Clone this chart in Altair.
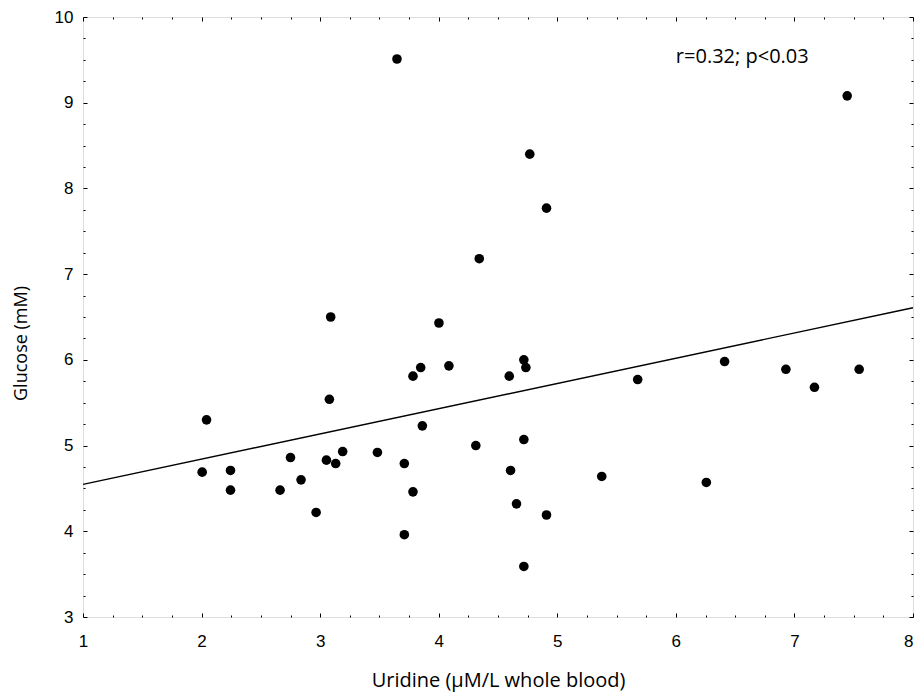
import altair as alt
import pandas as pd

# Scatter data
uridine = [3.648, 3.089, 4.002, 7.445, 4.768, 4.909, 4.342,
           2.042, 2.005, 2.244, 2.244, 2.662, 2.750, 2.839, 2.966, 3.078, 3.053,
           3.131, 3.190, 3.483, 3.710, 3.710, 3.783, 3.783, 3.848, 3.862, 4.086,
           4.718, 4.735, 4.595, 5.678, 6.411, 6.928, 7.169, 7.546, 4.313, 4.718,
           4.606, 5.375, 6.257, 4.656, 4.909, 4.718]
glucose = [9.51, 6.50, 6.43, 9.08, 8.40, 7.77, 7.18,
           5.30, 4.69, 4.71, 4.48, 4.48, 4.86, 4.60, 4.22, 5.54, 4.83,
           4.79, 4.93, 4.92, 4.79, 3.96, 4.46, 5.81, 5.91, 5.23, 5.93,
           6.00, 5.91, 5.81, 5.77, 5.98, 5.89, 5.68, 5.89, 5.00, 5.07,
           4.71, 4.64, 4.57, 4.32, 4.19, 3.59]

# Fitted line end points
line_x = [1.0, 8.0]
line_y = [4.547, 6.608]

# Annotation
note_x = [6.0]
note_y = [9.535]
note_text = ["r=0.32; p<0.03"]

x_major = [1, 2, 3, 4, 5, 6, 7, 8]
y_major = [3, 4, 5, 6, 7, 8, 9, 10]
x_minor = [v + q for v in range(1, 8) for q in (0.25, 0.5, 0.75)]
y_minor = [v + q for v in range(3, 10) for q in (0.25, 0.5, 0.75)]

df = pd.DataFrame({"u": uridine, "g": glucose})
line_df = pd.DataFrame({"x": line_x, "y": line_y})
note_df = pd.DataFrame({"x": note_x, "y": note_y, "t": note_text})

W, H = 830, 600
xs = alt.Scale(domain=[1, 8], nice=False, zero=False)
ys = alt.Scale(domain=[3, 10], nice=False, zero=False)

TITLE_FONT = "Open Sans"
LABEL_FONT = "Liberation Sans"

main_x = alt.Axis(orient="bottom", values=x_major, ticks=False, tickSize=0, domain=False,
                  grid=False, labelFont=LABEL_FONT, labelFontSize=17, labelColor="black",
                  labelPadding=16, labelFlush=False,
                  labelAlign={"condition": {"test": "datum.value >= 8", "value": "right"},
                              "value": "center"},
                  title="Uridine (μM/L whole blood)", titleFont=TITLE_FONT, titleFontSize=20,
                  titleFontWeight="normal", titleColor="black", titleBaseline="middle",
                  titleY=63)
main_y = alt.Axis(orient="left", values=y_major, ticks=False, tickSize=0, domain=False,
                  grid=False, labelFont=LABEL_FONT, labelFontSize=17, labelColor="black",
                  labelPadding=10, labelFlush=False,
                  title="Glucose (mM)", titleFont=TITLE_FONT, titleFontSize=18,
                  titleFontWeight="normal", titleColor="black", titleBaseline="middle",
                  titleX=-62, titleY=326)


def tick_axis(orient, values, size):
    return alt.Axis(orient=orient, values=values, ticks=True, tickSize=size, offset=-size,
                    tickColor="black", tickWidth=1, labels=False, domain=False,
                    grid=False, title=None)


points = alt.Chart(df).mark_circle(size=92, color="black", opacity=1).encode(
    x=alt.X("u:Q", scale=xs, axis=main_x),
    y=alt.Y("g:Q", scale=ys, axis=main_y),
)

line = alt.Chart(line_df).mark_line(color="black", strokeWidth=1.4).encode(
    x=alt.X("x:Q", scale=xs, axis=None),
    y=alt.Y("y:Q", scale=ys, axis=None),
)

note = alt.Chart(note_df).mark_text(align="left", baseline="middle", font=TITLE_FONT,
                                    fontSize=20, color="black").encode(
    x=alt.X("x:Q", scale=xs, axis=None),
    y=alt.Y("y:Q", scale=ys, axis=None),
    text="t:N",
)

tick_layers = []
for xo, yo, xv, yv, sz in [
    ("bottom", "left", x_major, y_major, 4),
    ("bottom", "left", x_minor, y_minor, 2),
    ("top", "right", x_major, y_major, 4),
    ("top", "right", x_minor, y_minor, 2),
]:
    tick_layers.append(
        alt.Chart(df).mark_point(opacity=0).encode(
            x=alt.X("u:Q", scale=xs, axis=tick_axis(xo, xv, sz)),
            y=alt.Y("g:Q", scale=ys, axis=tick_axis(yo, yv, sz)),
        )
    )

chart = alt.layer(line, points, note, *tick_layers).resolve_axis(
    x="independent", y="independent"
).properties(
    width=W, height=H,
    autosize=alt.AutoSizeParams(type="none"),
    padding={"left": 75, "top": 9, "right": 1, "bottom": 76},
).configure_view(
    stroke="black", strokeWidth=1.8
).configure(background="white")

chart.save("out.html", embed_options={"renderer": "svg", "actions": False})
